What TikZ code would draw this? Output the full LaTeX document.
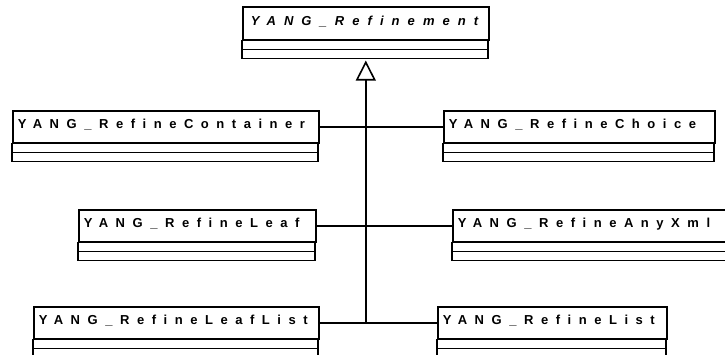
\documentclass[tikz,border=0pt]{standalone}
\usepackage{fontspec}
\usepackage{tikz}
\usetikzlibrary{arrows.meta}
\newfontfamily\umlfont[LetterSpace=58]{Liberation Sans}
\newfontfamily\umltitlefont[LetterSpace=62]{Liberation Sans}

\begin{document}
\begin{tikzpicture}[x=1pt,y=-1pt,
  classhead/.style={draw, line width=1.6pt, anchor=north west, inner xsep=5pt, inner ysep=0pt, align=left,
    text height=18pt, text depth=14pt, font=\umlfont\bfseries\fontsize{13pt}{13pt}\selectfont},
  compart/.style={draw, line width=1.6pt},
  link/.style={draw, line width=1.6pt}]
\clip (0,0) rectangle (725,355);
\node[classhead, inner xsep=8pt, text width=230pt, text height=19pt, font=\umltitlefont\bfseries\itshape\fontsize{13pt}{13pt}\selectfont] (refinement) at (242,6) {YANG\_Refinement};
\draw[compart] (refinement.south west) rectangle ++(246,9) (refinement.south west) ++(0,9) rectangle ++(246,9);
\node[classhead, text width=296pt] (container) at (12,110) {YANG\_RefineContainer};
\draw[compart] (container.south west) rectangle ++(306,9) (container.south west) ++(0,9) rectangle ++(306,9);
\node[classhead, text width=261pt] (choice) at (443,110) {YANG\_RefineChoice};
\draw[compart] (choice.south west) rectangle ++(271,9) (choice.south west) ++(0,9) rectangle ++(271,9);
\node[classhead, text width=227pt] (leaf) at (78,209) {YANG\_RefineLeaf};
\draw[compart] (leaf.south west) rectangle ++(237,9) (leaf.south west) ++(0,9) rectangle ++(237,9);
\node[classhead, text width=280pt] (anyxml) at (452,209) {YANG\_RefineAnyXml};
\draw[compart] (anyxml.south west) rectangle ++(290,9) (anyxml.south west) ++(0,9) rectangle ++(290,9);
\node[classhead, text width=275pt] (leaflist) at (33,306) {YANG\_RefineLeafList};
\draw[compart] (leaflist.south west) rectangle ++(285,9) (leaflist.south west) ++(0,9) rectangle ++(285,9);
\node[classhead, text width=219pt] (list) at (437,306) {YANG\_RefineList};
\draw[compart] (list.south west) rectangle ++(229,9) (list.south west) ++(0,9) rectangle ++(229,9);
\draw[link] (container.east) -- (choice.west);
\draw[link] (leaf.east) -- (anyxml.west);
\draw[link] (leaflist.east) -- (list.west);
\coordinate (stem) at (leaflist.east -| refinement.south);
\draw[link, -{Triangle[open, width=20pt, length=20pt]}] (stem) -- ([yshift=-20pt]refinement.south);
\end{tikzpicture}
\end{document}
